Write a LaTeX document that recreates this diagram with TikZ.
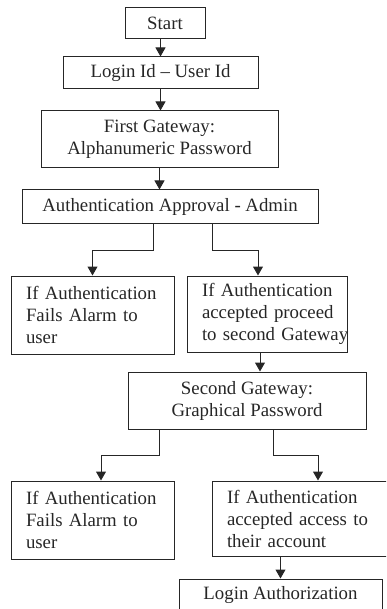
\documentclass[tikz,border=0pt]{standalone}
\usepackage{fontspec}
\setmainfont{Liberation Serif}
\usetikzlibrary{arrows.meta}
\begin{document}
\begin{tikzpicture}[x=1pt,y=-1pt,
  box/.style={draw=black!85,line width=1pt,inner sep=0pt,align=center,
    font=\fontsize{18.8}{22}\selectfont,text=black!85},
  lbox/.style={box,align=left,inner xsep=15pt},
  arr/.style={draw=black!85,line width=1pt,-{Triangle[width=10pt,length=9pt]}}]
\useasboundingbox (0,0) rectangle (386,609);
\clip (0,0) rectangle (386,609);
\node[box,minimum width=80pt,minimum height=31pt] (Start) at (165,23.5) {Start};
\node[box,minimum width=195pt,minimum height=32pt] (Login) at (160.5,73) {Login Id -- User Id};
\node[box,minimum width=237pt,minimum height=57pt] (FG) at (159.5,139.5) {First Gateway:\\Alphanumeric Password};
\node[box,minimum width=296pt,minimum height=34pt] (AA) at (170,207) {Authentication Approval - Admin};
\node[lbox,text width=133pt,minimum height=78pt] (L1) at (92.5,315) {\mbox{If Authentication}\\\mbox{Fails Alarm to}\\\mbox{user}};
\node[lbox,text width=130pt,minimum height=76pt] (R1) at (267,314) {\mbox{If Authentication}\\\mbox{accepted proceed}\\\mbox{to second Gateway}};
\node[box,minimum width=238pt,minimum height=57pt] (SG) at (247,400.5) {Second Gateway:\\Graphical Password};
\node[lbox,text width=133pt,minimum height=78pt] (L2) at (92.5,520) {\mbox{If Authentication}\\\mbox{Fails Alarm to}\\\mbox{user}};
\node[lbox,text width=150pt,minimum height=75pt] (R2) at (302,518.5) {\mbox{If Authentication}\\\mbox{accepted access to}\\\mbox{their account}};
\node[box,minimum width=203pt,minimum height=32pt] (LA) at (280.5,595) {Login Authorization};
\draw[arr] (Start.south -| Login.north) -- (Login.north);
\draw[arr] (Login.south) -- (Login.south |- FG.north);
\draw[arr] (FG.south) -- (FG.south |- AA.north);
\draw[arr] ([xshift=-17pt]AA.south) -- ++(0,26) -| (L1.north);
\draw[arr] ([xshift=42pt]AA.south) -- ++(0,26) -| ([xshift=-9pt]R1.north);
\draw[arr] ([xshift=-7pt]R1.south) -- ([xshift=-7pt]R1.south |- SG.north);
\draw[arr] ([xshift=-88pt]SG.south) -- ++(0,26) -| ([xshift=8.5pt]L2.north);
\draw[arr] ([xshift=26pt]SG.south) -- ++(0,26) -| ([xshift=16pt]R2.north);
\draw[arr] (LA.north |- R2.south) -- (LA.north);
\end{tikzpicture}
\end{document}
